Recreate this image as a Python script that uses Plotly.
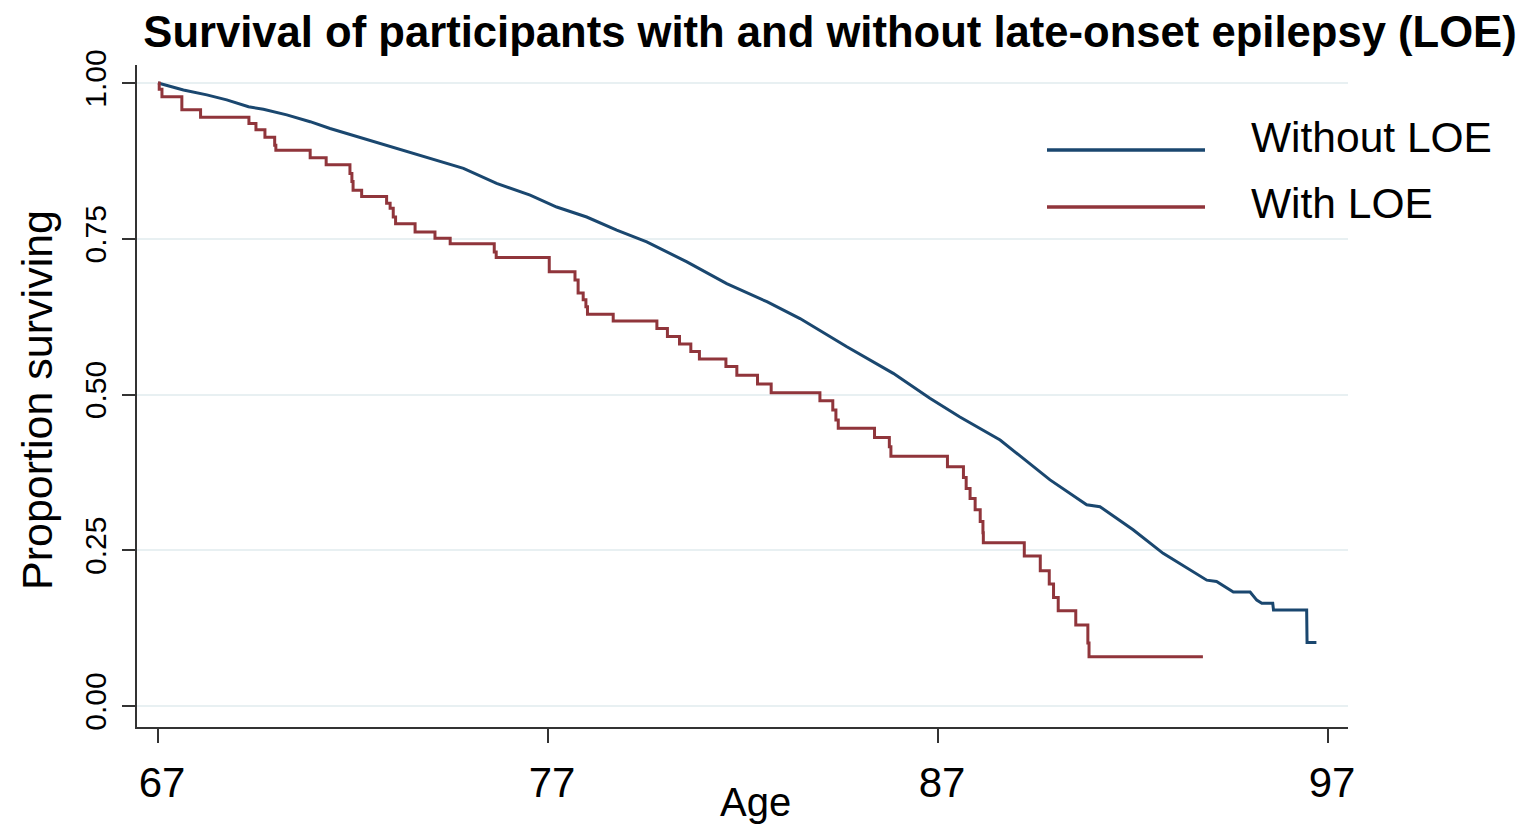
import plotly.graph_objects as go

# ---- data ----
age_without = [67.00, 67.65, 68.25, 68.76, 69.32, 69.70, 70.30, 70.90, 71.41, 72.26,
               72.78, 73.38, 74.15, 74.83, 75.68, 76.54, 77.22, 77.99, 78.76, 79.53,
               80.56, 81.58, 82.61, 83.46, 84.65, 85.85, 86.79, 87.56, 88.59, 89.87,
               90.81, 91.15, 92.00, 92.77, 93.89, 94.14, 94.57, 95.00, 95.17, 95.30,
               95.58, 95.60, 96.45, 96.46, 96.70]
surv_without = [1.000, 0.989, 0.981, 0.973, 0.962, 0.958, 0.949, 0.938, 0.927, 0.911,
                0.902, 0.890, 0.876, 0.863, 0.839, 0.820, 0.801, 0.785, 0.764, 0.745,
                0.713, 0.678, 0.649, 0.622, 0.577, 0.534, 0.494, 0.464, 0.427, 0.363,
                0.323, 0.320, 0.283, 0.245, 0.202, 0.200, 0.183, 0.183, 0.170, 0.165,
                0.165, 0.154, 0.154, 0.102, 0.102]

age_with = [67.00, 67.03, 67.10, 67.61, 68.09, 69.33, 69.51, 69.74, 69.99, 70.02,
            70.90, 71.31, 71.92, 71.97, 72.00, 72.22, 72.86, 72.95, 73.03, 73.09,
            73.59, 74.10, 74.49, 75.62, 75.67, 77.03, 77.69, 77.77, 77.90, 77.97,
            78.01, 78.67, 79.79, 80.06, 80.37, 80.66, 80.88, 81.56, 81.84, 82.37,
            82.72, 83.97, 84.30, 84.38, 84.44, 85.37, 85.75, 85.79, 87.24, 87.65,
            87.72, 87.82, 87.95, 88.08, 88.15, 88.16, 89.21, 89.62, 89.85, 89.96,
            90.08, 90.53, 90.84, 90.87, 93.79]
surv_with = [1.000, 0.990, 0.978, 0.957, 0.945, 0.935, 0.925, 0.913, 0.900, 0.892,
             0.880, 0.869, 0.855, 0.842, 0.828, 0.818, 0.807, 0.799, 0.785, 0.774,
             0.761, 0.751, 0.742, 0.729, 0.720, 0.697, 0.684, 0.663, 0.652, 0.641,
             0.629, 0.618, 0.606, 0.593, 0.581, 0.569, 0.557, 0.545, 0.531, 0.517,
             0.503, 0.490, 0.475, 0.459, 0.446, 0.431, 0.416, 0.401, 0.384, 0.367,
             0.349, 0.333, 0.315, 0.296, 0.278, 0.262, 0.241, 0.217, 0.196, 0.174,
             0.153, 0.130, 0.101, 0.079, 0.079]

x_ticks = [67, 77, 87, 97]
y_ticks = [0.0, 0.25, 0.5, 0.75, 1.0]
y_tick_labels = ["0.00", "0.25", "0.50", "0.75", "1.00"]
series_names = ["Without LOE", "With LOE"]

BLUE = "#1a476f"
RED = "#90353b"
FONT = "Liberation Sans, Arial, sans-serif"

fig = go.Figure()
fig.add_trace(go.Scatter(x=age_without, y=surv_without, mode="lines", name=series_names[0],
                         line=dict(color=BLUE, width=3, shape="linear"), showlegend=False))
fig.add_trace(go.Scatter(x=age_with, y=surv_with, mode="lines", name=series_names[1],
                         line=dict(color=RED, width=3, shape="hv"), showlegend=False))

# legend drawn manually (long line swatches as in the reference)
leg_items = [(series_names[0], BLUE, 150, 137), (series_names[1], RED, 207, 203)]
for name, col, ly, ty in leg_items:
    fig.add_shape(type="line", xref="paper", yref="paper",
                  x0=(1047 - 137) / 1211, x1=(1205 - 137) / 1211,
                  y0=(727 - ly) / 662, y1=(727 - ly) / 662,
                  line=dict(color=col, width=3.5))
    fig.add_annotation(text=name, xref="paper", yref="paper",
                       x=(1249 - 137) / 1211, y=(727 - ty) / 662,
                       xanchor="left", yanchor="middle", showarrow=False,
                       font=dict(family=FONT, size=42.5, color="black"))

# axis titles as annotations for exact placement
fig.add_annotation(text="Age", xref="paper", yref="paper",
                   x=(755 - 137) / 1211, y=(727 - 802) / 662,
                   xanchor="center", yanchor="middle", showarrow=False,
                   font=dict(family=FONT, size=40, color="black"))
fig.add_annotation(text="Proportion surviving", xref="paper", yref="paper",
                   x=(37 - 137) / 1211, y=(727 - 400) / 662, textangle=-90,
                   xanchor="center", yanchor="middle", showarrow=False,
                   font=dict(family=FONT, size=43, color="black"))

fig.update_layout(
    width=1524, height=825,
    margin=dict(l=137, r=176, t=65, b=98, autoexpand=False),
    paper_bgcolor="white", plot_bgcolor="white",
    title=dict(text="<b>Survival of participants with and without late-onset epilepsy (LOE)</b>",
               x=830 / 1524, xanchor="center", xref="container",
               y=1 - 32 / 825, yanchor="middle",
               font=dict(family=FONT, size=43.6, color="black")),
    font=dict(family=FONT, color="black"),
)
fig.update_xaxes(range=[66.46, 97.51], tickvals=x_ticks, ticktext=[str(v) for v in x_ticks],
                 showgrid=False, zeroline=False, showline=True, linecolor="#333333", linewidth=2,
                 ticks="outside", ticklen=14, tickwidth=1.5, tickcolor="#333333",
                 ticklabelstandoff=4, ticklabelshift=4, automargin=False,
                 tickfont=dict(family=FONT, size=42, color="black"))
fig.update_yaxes(range=[-0.0337, 1.029], tickvals=y_ticks, ticktext=y_tick_labels,
                 showgrid=True, gridcolor="#e8f0f2", gridwidth=2, zeroline=False,
                 showline=True, linecolor="#333333", linewidth=2,
                 ticks="outside", ticklen=13, tickwidth=1.5, tickcolor="#333333",
                 tickangle=-90, ticklabelstandoff=4, automargin=False,
                 tickfont=dict(family=FONT, size=30, color="black"))

fig.write_html("out.html")
